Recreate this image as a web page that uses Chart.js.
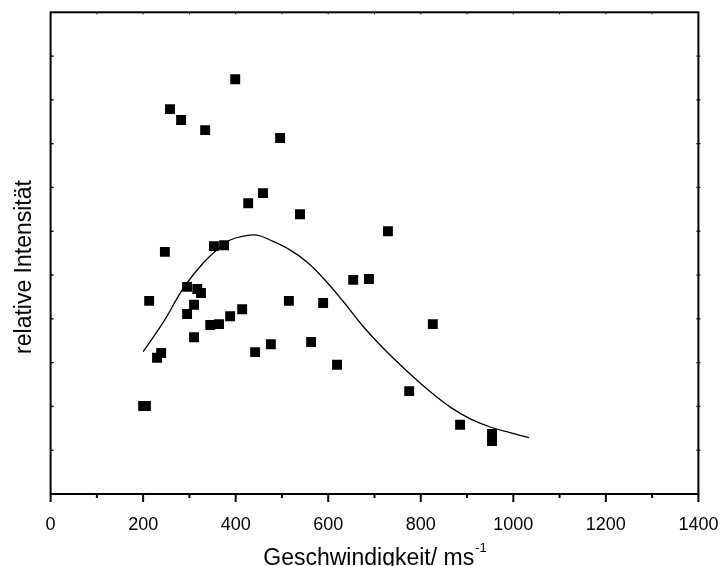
<!DOCTYPE html>
<html><head><meta charset="utf-8">
<script src="https://cdn.jsdelivr.net/npm/chart.js@4"></script>
<style>html,body{margin:0;padding:0;background:#fff}</style>
</head><body>
<canvas id="c" width="722" height="566"></canvas>
<script>
// measured points (speed in m/s, relative intensity in arbitrary units)
const speedValues = [200, 206, 213, 230, 239, 247, 258, 282, 334, 399, 496, 427, 459, 539, 353, 375, 295, 317, 325, 310, 295, 345, 364, 388, 414, 310, 442, 476, 515, 589, 563, 619, 654, 688, 729, 826, 775, 885, 954, 954];
const intensityValues = [2.01, 2.01, 4.41, 3.11, 3.22, 5.53, 8.79, 8.54, 8.31, 9.47, 8.13, 6.64, 6.87, 6.39, 5.66, 5.68, 4.73, 4.68, 4.59, 4.32, 4.11, 3.86, 3.88, 4.06, 4.22, 3.58, 3.24, 3.42, 4.41, 4.36, 3.47, 2.95, 4.89, 4.91, 6.00, 3.88, 2.35, 1.58, 1.37, 1.21];
// fitted distribution curve
const fitSpeed = [200, 244, 287, 327, 359, 388, 417, 446, 474, 518, 554, 590, 633, 676, 719, 777, 820, 863, 906, 950, 993, 1034];
const fitIntensity = [3.25, 3.93, 4.70, 5.24, 5.57, 5.80, 5.89, 5.91, 5.80, 5.57, 5.30, 4.92, 4.39, 3.82, 3.33, 2.74, 2.34, 1.99, 1.72, 1.53, 1.40, 1.29];
const xTickLabels = ['0', '200', '400', '600', '800', '1000', '1200', '1400'];
const xTitle = 'Geschwindigkeit/ ms';
const xTitleSup = '-1';
const yTitle = 'relative Intensität';

const FONT = '"Liberation Sans", Arial, Helvetica, sans-serif';

const pointsData = speedValues.map((v, i) => ({x: v, y: intensityValues[i]}));
const fitData = fitSpeed.map((v, i) => ({x: v, y: fitIntensity[i]}));

const framePlugin = {
  id: 'frame',
  afterDraw(chart) {
    const ctx = chart.ctx;
    const a = chart.chartArea;
    const xs = chart.scales.x, ys = chart.scales.y;
    ctx.save();
    ctx.strokeStyle = '#000';
    ctx.lineWidth = 2;
    ctx.strokeRect(a.left, a.top, a.right - a.left, a.bottom - a.top);
    // bottom ticks
    for (let v = 0; v <= 1400; v += 100) {
      const px = xs.getPixelForValue(v);
      const len = (v % 200 === 0) ? 8 : 4;
      ctx.lineWidth = 2;
      ctx.beginPath(); ctx.moveTo(px, a.bottom); ctx.lineTo(px, a.bottom + len); ctx.stroke();
      ctx.lineWidth = 1;
      ctx.beginPath(); ctx.moveTo(px, a.top); ctx.lineTo(px, a.top + 2); ctx.stroke();
    }
    // left / right ticks
    ctx.lineWidth = 1.3;
    for (let v = 1; v <= 10; v++) {
      const py = ys.getPixelForValue(v);
      ctx.beginPath(); ctx.moveTo(a.left, py); ctx.lineTo(a.left + 3, py); ctx.stroke();
      ctx.beginPath(); ctx.moveTo(a.right - 2, py); ctx.lineTo(a.right + 2, py); ctx.stroke();
    }
    ctx.fillStyle = '#000';
    // y title (rotated)
    ctx.save();
    ctx.translate(30.5, 267);
    ctx.rotate(-Math.PI / 2);
    ctx.textAlign = 'center';
    ctx.textBaseline = 'alphabetic';
    ctx.font = '23px ' + FONT;
    ctx.fillText(yTitle, 0, 0);
    ctx.restore();
    // x title with superscript
    ctx.textBaseline = 'alphabetic';
    ctx.textAlign = 'left';
    ctx.font = '23px ' + FONT;
    const w1 = ctx.measureText(xTitle).width;
    ctx.font = '13px ' + FONT;
    const w2 = ctx.measureText(xTitleSup).width;
    const cx = (a.left + a.right) / 2;
    const x0 = cx - (w1 + w2) / 2;
    ctx.font = '23px ' + FONT;
    ctx.fillText(xTitle, x0, 565);
    ctx.font = '13px ' + FONT;
    ctx.fillText(xTitleSup, x0 + w1 + 1, 552);
    ctx.restore();
  }
};

new Chart(document.getElementById('c'), {
  type: 'scatter',
  data: {
    datasets: [
      {
        label: 'Messpunkte',
        data: pointsData,
        pointStyle: 'rect',
        pointRadius: 7,
        pointHoverRadius: 7,
        backgroundColor: '#000',
        borderColor: '#000',
        borderWidth: 0,
        showLine: false,
        order: 1
      },
      {
        label: 'Anpassung',
        data: fitData,
        showLine: true,
        pointRadius: 0,
        borderColor: '#000',
        borderWidth: 1.3,
        tension: 0.4,
        fill: false,
        order: 0
      }
    ]
  },
  plugins: [framePlugin],
  options: {
    responsive: false,
    animation: false,
    devicePixelRatio: 1,
    layout: { padding: { top: 12.3, right: 23.6, left: 0, bottom: 0 } },
    plugins: { legend: { display: false }, tooltip: { enabled: false } },
    scales: {
      x: {
        type: 'linear',
        min: 0, max: 1400,
        grid: { display: false },
        border: { display: false },
        ticks: {
          stepSize: 200,
          color: '#000',
          padding: 12.7,
          maxRotation: 0,
          autoSkip: false,
          font: { size: 18, family: FONT },
          callback: (v) => xTickLabels[Math.round(v / 200)] ?? ''
        },
        afterFit(scale) { scale.height = 72; scale.paddingLeft = 0; scale.paddingRight = 0; }
      },
      y: {
        type: 'linear',
        min: 0, max: 11,
        grid: { display: false },
        border: { display: false },
        ticks: { display: false, stepSize: 1 },
        title: { display: false },
        afterFit(scale) { scale.width = 50.6; scale.paddingTop = 0; scale.paddingBottom = 0; }
      }
    }
  }
});
</script>
</body></html>
